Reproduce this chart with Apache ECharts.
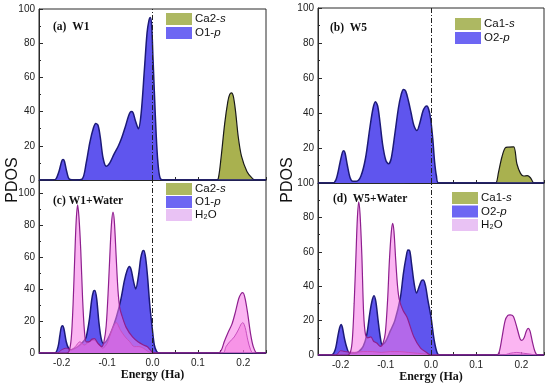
<!DOCTYPE html>
<html><head><meta charset="utf-8">
<script src="https://cdn.jsdelivr.net/npm/echarts@6/dist/echarts.min.js"></script>
<style>html,body{margin:0;padding:0;background:#fff}#c{width:550px;height:388px}</style>
</head><body><div id="c"></div>
<script>
// ---- data: [energy (Ha), PDOS] ----
const xTicks = [-0.2, -0.1, 0.0, 0.1, 0.2];
const yTicks = [0, 20, 40, 60, 80, 100];

// (a) W1
const a_Ca2s = [[-0.25,0],[-0.15,0],[-0.13,0.8],[-0.11,1.5],[-0.09,1.2],[-0.07,0.3],[-0.05,0],[0.14,0],[0.145,1],[0.151,13],[0.159,33],[0.166,46],[0.17,50],[0.174,51],[0.178,49],[0.183,40],[0.189,25],[0.196,14],[0.208,5],[0.218,1.5],[0.226,0],[0.25,0]];
const a_O1p = [[-0.25,0],[-0.22,0],[-0.213,0.5],[-0.206,5],[-0.2,11],[-0.197,12],[-0.194,11],[-0.189,5],[-0.183,0.5],[-0.17,0],[-0.155,0.5],[-0.146,10],[-0.138,22],[-0.13,30.5],[-0.125,33],[-0.12,32],[-0.115,25],[-0.109,13],[-0.102,8],[-0.094,10],[-0.085,15],[-0.075,20],[-0.068,24.5],[-0.06,31],[-0.052,38],[-0.047,40],[-0.043,39.5],[-0.038,35],[-0.031,30],[-0.025,39],[-0.018,64],[-0.012,86],[-0.008,93],[-0.005,95],[-0.002,91],[0.001,72],[0.004,52],[0.008,27],[0.012,10],[0.017,1],[0.025,0],[0.25,0]];

// (b) W5
const b_Ca1s = [[-0.25,0],[-0.17,0],[-0.15,0.8],[-0.12,1],[-0.09,0.8],[-0.06,0.3],[-0.04,0],[0.14,0],[0.145,0.5],[0.149,5.6],[0.157,15],[0.164,20],[0.172,20.5],[0.183,20.7],[0.19,11],[0.198,5.5],[0.205,4],[0.213,4.2],[0.22,3],[0.228,0],[0.25,0]];
const b_O2p = [[-0.25,0],[-0.218,0],[-0.21,2],[-0.201,12],[-0.196,17.5],[-0.193,18.5],[-0.19,17],[-0.185,10],[-0.179,3],[-0.173,1],[-0.165,1],[-0.155,4],[-0.145,14],[-0.135,32],[-0.128,43],[-0.123,46.5],[-0.118,44],[-0.113,35],[-0.107,22],[-0.1,13],[-0.094,11],[-0.088,14],[-0.08,28],[-0.072,43],[-0.066,50.5],[-0.061,53.5],[-0.056,52.5],[-0.05,47],[-0.044,40],[-0.038,33],[-0.031,30],[-0.025,34],[-0.018,41],[-0.013,43.5],[-0.009,44],[-0.005,42],[-0.001,37],[0.004,25],[0.008,12],[0.012,4],[0.017,0],[0.25,0]];

// (c) W1+Water
const c_Ca2s = [[-0.25,0],[-0.21,0],[-0.2,2],[-0.19,3],[-0.18,2],[-0.17,4],[-0.16,7],[-0.15,5],[-0.14,7],[-0.13,8],[-0.12,6],[-0.11,3],[-0.1,6],[-0.09,14],[-0.08,19],[-0.07,14],[-0.06,10],[-0.05,7],[-0.04,4],[-0.03,4],[-0.02,3],[-0.01,1],[0,0],[0.155,0],[0.162,4],[0.17,7],[0.18,10],[0.19,15],[0.195,18],[0.199,19],[0.204,16],[0.21,8],[0.216,2],[0.222,0],[0.25,0]];
const c_O1p = [[-0.25,0],[-0.215,0],[-0.208,4],[-0.204,11],[-0.201,16],[-0.198,17],[-0.195,15],[-0.19,7],[-0.185,3],[-0.18,2],[-0.17,3],[-0.16,5],[-0.15,8],[-0.146,10],[-0.139,21],[-0.134,33],[-0.13,38.5],[-0.127,39],[-0.123,34],[-0.118,19],[-0.113,9],[-0.108,6],[-0.1,8],[-0.09,14],[-0.08,22],[-0.07,33],[-0.062,45],[-0.056,51.5],[-0.051,54],[-0.047,52],[-0.042,45],[-0.037,40],[-0.031,48],[-0.026,59],[-0.022,63.5],[-0.019,64],[-0.015,59],[-0.011,48],[-0.006,30],[0,14],[0.004,5],[0.009,1],[0.015,0],[0.25,0]];
const c_H2O = [[-0.25,0],[-0.19,0],[-0.184,1],[-0.179,9],[-0.175,30],[-0.171,62],[-0.168,83],[-0.165,92.5],[-0.162,85],[-0.158,64],[-0.154,34],[-0.15,14],[-0.146,7],[-0.14,7],[-0.134,8.5],[-0.128,9],[-0.12,6],[-0.112,4],[-0.107,7],[-0.102,17],[-0.097,42],[-0.093,67],[-0.09,82],[-0.087,88],[-0.084,82],[-0.08,60],[-0.076,39],[-0.072,28],[-0.067,23],[-0.058,16],[-0.044,10],[-0.032,7],[-0.02,5],[-0.012,4],[-0.005,2],[0,0.5],[0.01,0],[0.145,0],[0.152,2],[0.158,7],[0.166,12.5],[0.175,18],[0.183,26],[0.19,34],[0.195,37],[0.199,37.7],[0.204,34],[0.21,24],[0.216,12],[0.222,4],[0.23,0],[0.25,0]];

// (d) W5+Water
const d_Ca1s = [[-0.25,0],[-0.21,0],[-0.2,2.5],[-0.19,2],[-0.17,1.5],[-0.15,2],[-0.13,2],[-0.11,1.5],[-0.09,2],[-0.07,2],[-0.05,1.5],[-0.03,1],[-0.01,0.5],[0,0],[0.16,0],[0.175,1],[0.19,1.5],[0.205,1],[0.22,0.5],[0.23,0],[0.25,0]];
const d_O2p = [[-0.25,0],[-0.22,0],[-0.212,3],[-0.206,11],[-0.202,16],[-0.199,17.8],[-0.196,16],[-0.191,9],[-0.186,4],[-0.18,1],[-0.17,1],[-0.16,2],[-0.15,5],[-0.142,12],[-0.135,25],[-0.13,32],[-0.126,34.5],[-0.122,31],[-0.117,20],[-0.112,10],[-0.108,6],[-0.1,8],[-0.09,14],[-0.08,20],[-0.068,33],[-0.061,47.5],[-0.055,57],[-0.051,61],[-0.047,60.5],[-0.043,53],[-0.037,41],[-0.032,36],[-0.026,40],[-0.021,43.2],[-0.017,43.6],[-0.012,40],[-0.007,32],[0,22],[0.007,8.7],[0.014,1],[0.02,0],[0.25,0]];
const d_H2O = [[-0.25,0],[-0.185,0],[-0.178,2],[-0.174,9],[-0.17,30],[-0.166,58],[-0.163,79],[-0.16,89],[-0.157,82],[-0.153,58],[-0.149,24],[-0.145,12],[-0.14,10],[-0.133,10.5],[-0.127,8],[-0.12,7],[-0.112,5],[-0.106,7],[-0.101,13],[-0.096,32],[-0.092,55],[-0.088,71],[-0.085,76.5],[-0.082,72],[-0.078,55],[-0.074,40],[-0.07,32],[-0.062,26],[-0.053,22],[-0.038,10.6],[-0.023,4],[-0.01,1.5],[0,0],[0.145,0],[0.151,2],[0.157,10],[0.164,20],[0.17,23],[0.175,23.3],[0.182,22.5],[0.19,16],[0.197,9.5],[0.201,8.5],[0.206,10],[0.211,14],[0.215,15.5],[0.219,14],[0.224,8],[0.23,2],[0.236,0],[0.25,0]];

// ---- styling ----
const CA_FILL = '#a9b14f', CA_LINE = '#1a1a1a';
const O_FILL = '#5f55ee', O_LINE = '#1c1a78';
const H_FILL = 'rgba(248,120,232,0.55)', H_LINE = '#8e1f8e';
const CAW_FILL = 'rgba(232,90,200,0.45)';

const grids = [
  {left:39, top:9, width:227, height:171},
  {left:318, top:8, width:226, height:175},
  {left:39, top:180, width:227, height:173},
  {left:318, top:183, width:226, height:172}
].map(g => Object.assign(g, {show:true, borderColor:'#2a2a2a', borderWidth:1, containLabel:false}));

function xAx(gi, showLabels, nameGap) {
  return {
    gridIndex: gi, type:'value', min:-0.25, max:0.25, interval:0.05,
    axisLine:{show:true, onZero:false, lineStyle:{color:'#2a2a2a', width:1}},
    axisTick:{show:true, inside:true, length:3, lineStyle:{color:'#2a2a2a'}},
    splitLine:{show:false},
    axisLabel:{show:showLabels, fontSize:10, color:'#222', margin:5, fontFamily:'Liberation Sans',
      formatter: v => { const r = Math.round(v*100); if (r % 10 !== 0) return ''; return (r/100).toFixed(1); }},
    name: showLabels ? 'Energy (Ha)' : '', nameLocation:'middle', nameGap: nameGap || 0,
    nameTextStyle:{fontFamily:'Liberation Serif', fontWeight:'bold', fontSize:12, color:'#111'}
  };
}
function yAx(gi, max, showMin, showMax) {
  return {
    gridIndex: gi, type:'value', min:0, max:max, interval:20,
    axisLine:{show:true, onZero:false, lineStyle:{color:'#2a2a2a', width:1}},
    axisTick:{show:true, inside:true, length:4, lineStyle:{color:'#2a2a2a'}},
    minorTick:{show:true, splitNumber:2, length:2, lineStyle:{color:'#2a2a2a'}},
    splitLine:{show:false}, minorSplitLine:{show:false},
    axisLabel:{fontSize:10, color:'#222', margin:4, fontFamily:'Liberation Sans', showMinLabel:showMin, showMaxLabel:showMax}
  };
}
function area(name, gi, data, fill, line, lw, z) {
  return {type:'line', name:name, xAxisIndex:gi, yAxisIndex:gi, data:data, smooth:0.3,
    symbol:'none', silent:true, z:z, clip:true,
    lineStyle:{color:line, width:lw}, itemStyle:{color:fill}, areaStyle:{color:fill, opacity:1}};
}
function zeroLine(gi) {
  return {type:'line', xAxisIndex:gi, yAxisIndex:gi, data:[[0,0]], symbol:'none', z:20, silent:true,
    lineStyle:{width:0},
    markLine:{silent:true, symbol:'none', label:{show:false}, animation:false,
      lineStyle:{type:[5,2,1,2], color:'#222', width:1}, data:[{xAxis:0}]}};
}
const rich = {n:{fontSize:11.5, fontFamily:'Liberation Sans', color:'#111'}, i:{fontSize:11.5, fontFamily:'Liberation Sans', fontStyle:'italic', color:'#111'}};
const fmt = name => {
  if (name === 'H2O') return '{n|H₂O}';
  const p = name.split('-');
  return '{n|' + p[0] + '-}{i|' + p[1] + '}';
};
function legend(left, top, names, gap) {
  const cols = {'Ca2-s':'#adb862','Ca1-s':'#adb862','O1-p':'#6d66f3','O2-p':'#6d66f3','H2O':'#e9c2f4'};
  return {left:left, top:top, orient:'vertical', padding:0, itemGap:gap, itemWidth:26, itemHeight:12,
    icon:'rect', selectedMode:false, formatter:fmt, textStyle:{rich:rich, padding:[0,0,0,-2]},
    data: names.map(n => ({name:n, itemStyle:{color:cols[n], borderWidth:0}}))};
}
const titles = [
  ['(a)  W1', 53, 27], ['(b)  W5', 330, 28], ['(c) W1+Water', 53, 201], ['(d)  W5+Water', 333, 199]
];

const chart = echarts.init(document.getElementById('c'), null, {renderer:'canvas'});
chart.setOption({
  animation:false,
  backgroundColor:'#fff',
  grid: grids,
  xAxis: [xAx(0,false), xAx(1,false), xAx(2,true,9), xAx(3,true,15)],
  yAxis: [yAx(0,100,true,true), yAx(1,100,false,true), yAx(2,108,true,false), yAx(3,100,true,true)],
  legend: [
    legend(166, 13, ['Ca2-s','O1-p'], 2),
    legend(455, 18, ['Ca1-s','O2-p'], 2),
    legend(166, 183, ['Ca2-s','O1-p','H2O'], 1),
    legend(452, 192, ['Ca1-s','O2-p','H2O'], 1.5)
  ],
  series: [
    area('Ca2-s', 0, a_Ca2s, CA_FILL, CA_LINE, 1.2, 2),
    area('O1-p', 0, a_O1p, O_FILL, O_LINE, 1.5, 3),
    zeroLine(0),
    area('Ca1-s', 1, b_Ca1s, CA_FILL, CA_LINE, 1.2, 2),
    area('O2-p', 1, b_O2p, O_FILL, O_LINE, 1.5, 3),
    zeroLine(1),
    area('O1-p', 2, c_O1p, O_FILL, O_LINE, 1.5, 2),
    area('Ca2-s', 2, c_Ca2s, CAW_FILL, H_LINE, 1, 3),
    area('H2O', 2, c_H2O, H_FILL, H_LINE, 1.2, 4),
    zeroLine(2),
    area('O2-p', 3, d_O2p, O_FILL, O_LINE, 1.5, 2),
    area('Ca1-s', 3, d_Ca1s, CAW_FILL, H_LINE, 1, 3),
    area('H2O', 3, d_H2O, H_FILL, H_LINE, 1.2, 4),
    zeroLine(3)
  ],
  graphic: titles.map(t => ({type:'text', x:t[1], y:t[2], z:30, silent:true,
      style:{text:t[0], fontFamily:'Liberation Serif', fontWeight:'bold', fontSize:11.5, fill:'#111', textVerticalAlign:'middle'}}))
    .concat([
      {type:'text', x:13, y:180, rotation:Math.PI/2, z:30, silent:true, style:{text:'PDOS', fontFamily:'Liberation Sans', fontSize:16, fill:'#111', textAlign:'center', textVerticalAlign:'middle'}},
      {type:'text', x:288, y:180, rotation:Math.PI/2, z:30, silent:true, style:{text:'PDOS', fontFamily:'Liberation Sans', fontSize:16, fill:'#111', textAlign:'center', textVerticalAlign:'middle'}}
    ])
});
</script></body></html>
